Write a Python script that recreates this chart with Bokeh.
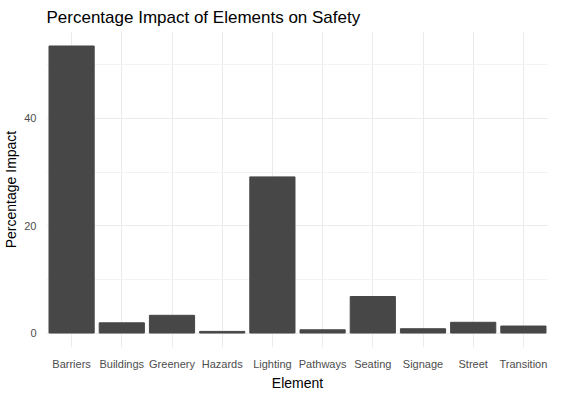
from bokeh.plotting import figure
from bokeh.embed import file_html
from bokeh.resources import INLINE
from bokeh.models import Range1d, FixedTicker

elements = ["Barriers","Buildings","Greenery","Hazards","Lighting","Pathways","Seating","Signage","Street","Transition"]
impact = [53.5,1.9,3.3,0.3,29.1,0.6,6.8,0.8,2.0,1.3]

p = figure(x_range=elements, width=550, height=393, output_backend="svg", toolbar_location=None,
           title="Percentage Impact of Elements on Safety")
p.y_range = Range1d(-2.7, 56.2)
p.vbar(x=elements, top=impact, width=0.9, color="#474747")
p.title.text_font = "Liberation Sans"; p.title.text_font_size = "17px"; p.title.text_font_style = "normal"
p.title.text_color = "black"
p.outline_line_color = None
p.background_fill_color = "white"
for ax in (p.xaxis, p.yaxis):
    ax.axis_line_color = None
    ax.major_tick_line_color = None
    ax.minor_tick_line_color = None
    ax.major_label_text_font = "Liberation Sans"
    ax.major_label_text_font_size = "11px"
    ax.major_label_text_color = "#4d4d4d"
    ax.axis_label_text_font = "Liberation Sans"
    ax.axis_label_text_font_size = "14px"
    ax.axis_label_text_font_style = "normal"
    ax.axis_label_text_color = "black"
    ax.axis_label_standoff = 2
    ax.major_label_standoff = 4
p.xaxis.axis_label = "Element"
p.yaxis.axis_label = "Percentage Impact"
tk = FixedTicker(ticks=[0, 20, 40], minor_ticks=[10, 30, 50])
p.yaxis.ticker = tk
p.ygrid.ticker = tk
p.grid.grid_line_color = "#ebebeb"
p.ygrid.minor_grid_line_color = "#f3f3f3"
p.min_border_left = 10
p.min_border_right = 2
p.min_border_bottom = 5

open("out.html", "w").write(file_html(p, INLINE))
